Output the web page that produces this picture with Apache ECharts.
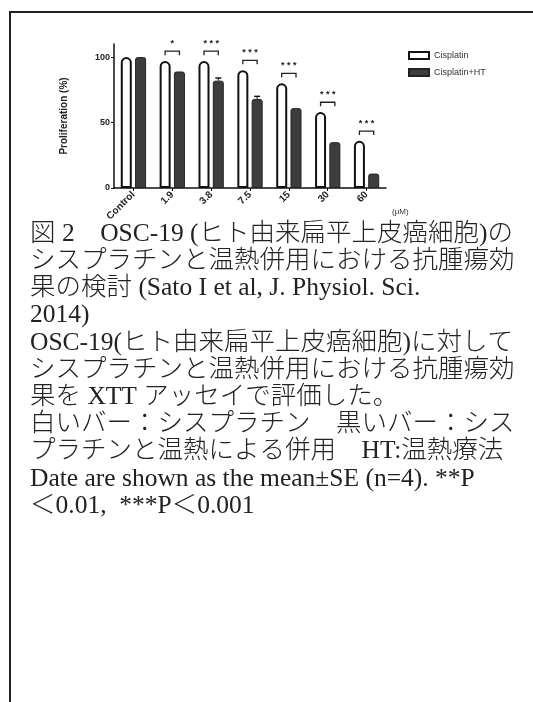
<!DOCTYPE html>
<html>
<head>
<meta charset="utf-8">
<script src="https://cdn.jsdelivr.net/npm/echarts@6/dist/echarts.min.js"></script>
<style>
html,body{margin:0;padding:0;background:#fff;}
#chart{width:533px;height:702px;}
</style>
</head>
<body>
<div id="chart"></div>
<script>
// ---- data ----
var categories = ['Control', '1.9', '3.8', '7.5', '15', '30', '60'];
var cisplatin = [100, 97, 97, 90, 80, 58, 36];
var cisplatinHT = [100, 89, 82, 68, 61, 35, 11];
var cisplatinHTErr = [0, 0, 2, 2, 0, 0, 0];
var sigLabels = ['', '*', '***', '***', '***', '***', '***'];
var yTicks = [0, 50, 100];
var seriesNames = ['Cisplatin', 'Cisplatin+HT'];
var xAxisUnit = '(μM)';
var yAxisTitle = 'Proliferation (%)';
var captionLines = [
  '図 2　OSC-19 (ヒト由来扁平上皮癌細胞)の',
  'シスプラチンと温熱併用における抗腫瘍効',
  '果の検討 (Sato I et al, J. Physiol. Sci.',
  '2014)',
  'OSC-19(ヒト由来扁平上皮癌細胞)に対して',
  'シスプラチンと温熱併用における抗腫瘍効',
  '果を XTT アッセイで評価した。',
  '白いバー：シスプラチン　黒いバー：シス',
  'プラチンと温熱による併用　HT:温熱療法',
  'Date are shown as the mean±SE (n=4). **P',
  '＜0.01,  ***P＜0.001'
];

// ---- layout ----
var BAR_W = 11;
var GAP_RATIO = 0.3;
var labelFont = '"Liberation Sans", Arial, sans-serif';
var capFont = '"Liberation Serif", "Noto Sans CJK JP", serif';

var chart = echarts.init(document.getElementById('chart'));

function pairOffset() {
  return (BAR_W + BAR_W * GAP_RATIO) / 2;
}

var graphics = [
  { type: 'line', shape: { x1: 10, y1: 12, x2: 533, y2: 12 }, style: { stroke: '#222', lineWidth: 2 } },
  { type: 'line', shape: { x1: 10, y1: 11, x2: 10, y2: 702 }, style: { stroke: '#222', lineWidth: 2 } },
  { type: 'text', x: 392, y: 208, style: { text: xAxisUnit, fontSize: 8, fontFamily: labelFont, fill: '#333' } }
];
captionLines.forEach(function (t, i) {
  graphics.push({
    type: 'text', x: 30, y: 234 + i * 27.2,
    style: { text: t, fontSize: 25.5, fontWeight: 300, fontFamily: capFont, fill: '#222', verticalAlign: 'middle' }
  });
});

var option = {
  backgroundColor: '#fff',
  animation: false,
  grid: { left: 114, top: 44, width: 272, height: 144, containLabel: false },
  legend: {
    orient: 'vertical', left: 403, top: 46, itemWidth: 20, itemHeight: 7, itemGap: 8,
    textStyle: { fontSize: 9, fontFamily: labelFont, color: '#333' },
    data: [
      { name: seriesNames[0], icon: 'rect' },
      { name: seriesNames[1], icon: 'rect' }
    ]
  },
  xAxis: {
    type: 'category', data: categories,
    axisLine: { lineStyle: { color: '#111', width: 1.5 } },
    axisTick: { show: true, alignWithLabel: true, length: 3, lineStyle: { color: '#111' } },
    axisLabel: { rotate: 45, fontSize: 10, fontWeight: 'bold', fontFamily: labelFont, color: '#222', margin: 5 }
  },
  yAxis: {
    type: 'value', min: 0, max: 110, interval: 50,
    name: yAxisTitle, nameLocation: 'middle', nameGap: 45, nameRotate: 90,
    nameTextStyle: { fontSize: 10, fontWeight: 'bold', fontFamily: labelFont, color: '#222' },
    splitLine: { show: false },
    axisLine: { show: true, lineStyle: { color: '#111', width: 1.5 } },
    axisTick: { show: true, length: 3, customValues: yTicks, lineStyle: { color: '#111' } },
    axisLabel: { customValues: yTicks, fontSize: 9, fontWeight: 'bold', fontFamily: labelFont, color: '#222', margin: 4 }
  },
  graphic: graphics,
  series: [
    {
      name: seriesNames[0], type: 'bar', data: cisplatin, barWidth: BAR_W, barGap: (GAP_RATIO * 100) + '%',
      itemStyle: { color: '#fff', borderColor: '#111', borderWidth: 2, borderRadius: [6, 6, 0, 0] }
    },
    {
      name: seriesNames[1], type: 'bar', data: cisplatinHT, barWidth: BAR_W,
      itemStyle: { color: '#3d3d3d', borderColor: '#222', borderWidth: 1, borderRadius: [2, 2, 0, 0] }
    },
    {
      type: 'custom', name: 'err', silent: true, z: 5,
      data: cisplatinHT.map(function (v, i) { return [i, v, cisplatinHTErr[i]]; }),
      renderItem: function (params, api) {
        var e = api.value(2);
        if (!e) return null;
        var i = api.value(0);
        var top = api.coord([i, api.value(1) + e]);
        var base = api.coord([i, api.value(1)]);
        var cx = top[0] + pairOffset();
        return {
          type: 'group', children: [
            { type: 'line', shape: { x1: cx, y1: base[1], x2: cx, y2: top[1] }, style: { stroke: '#111', lineWidth: 1 } },
            { type: 'line', shape: { x1: cx - 3, y1: top[1], x2: cx + 3, y2: top[1] }, style: { stroke: '#111', lineWidth: 1.5 } }
          ]
        };
      }
    },
    {
      type: 'custom', name: 'sig', silent: true, z: 5,
      data: cisplatin.map(function (v, i) { return [i, v]; }),
      renderItem: function (params, api) {
        var i = api.value(0);
        var lab = sigLabels[i];
        if (!lab) return null;
        var p = api.coord([i, api.value(1) + 7.5]);
        var off = pairOffset();
        var x0 = p[0] - off, x1 = p[0] + off, y = p[1];
        return {
          type: 'group', children: [
            { type: 'polyline', shape: { points: [[x0, y + 4], [x0, y], [x1, y], [x1, y + 4]] }, style: { stroke: '#222', lineWidth: 1.3, fill: null } },
            { type: 'text', x: p[0], y: y - 3, style: { text: lab.split('').join(' '), fontSize: 9, fontWeight: 'bold', fontFamily: labelFont, fill: '#222', align: 'center', verticalAlign: 'bottom' } }
          ]
        };
      }
    }
  ]
};
chart.setOption(option);
</script>
</body>
</html>
